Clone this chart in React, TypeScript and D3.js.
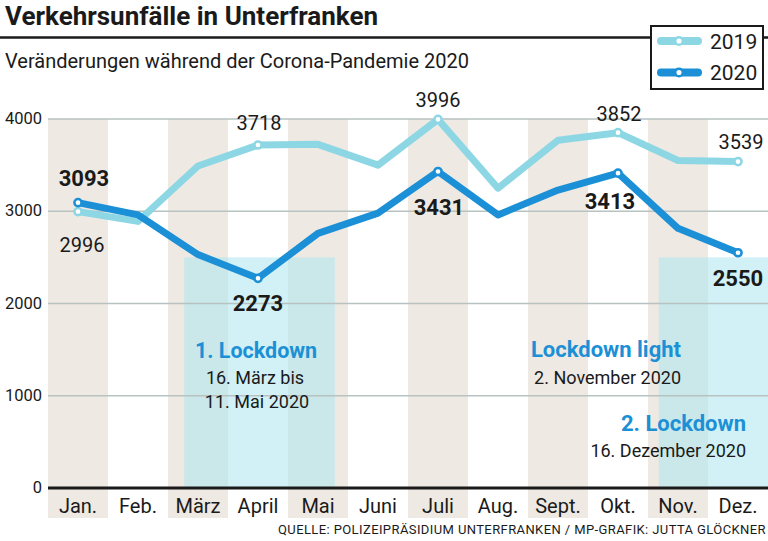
import { scaleBand, scaleLinear, line } from 'd3'

// Verkehrsunfälle in Unterfranken, 2019 vs 2020, month bands + lockdown shading.

const MONTHS = ['Jan.', 'Feb.', 'März', 'April', 'Mai', 'Juni', 'Juli', 'Aug.', 'Sept.', 'Okt.', 'Nov.', 'Dez.']
const Y2019 = [2996, 2890, 3490, 3718, 3725, 3500, 3996, 3250, 3770, 3852, 3550, 3539]
const Y2020 = [3093, 2960, 2530, 2273, 2760, 2980, 3431, 2960, 3230, 3413, 2815, 2550]
const Y_TICKS = [0, 1000, 2000, 3000, 4000]
const LABELED = [0, 3, 6, 9, 11]
// lockdown spans in fractional month index, shaded up to a value level
const LOCKDOWNS = [
  { from: 2.27, to: 4.78, level: 2500 },
  { from: 10.18, to: 12, level: 2500 },
]

const C19 = '#8dd7e5'
const C20 = '#1c90d6'
const BEIGE = '#eee9e2'
const SHADE = '#b3e7f0'
const GRID = '#b7c2c1'
const INK = '#1a1a1a'
const FONT = 'Roboto, "Liberation Sans", sans-serif'

// label offsets (dx, dy from point) per labelled month
const OFF19: Record<number, [number, number]> = { 0: [4, 40], 3: [1, -15], 6: [0, -12], 9: [1, -12], 11: [3, -13] }
const OFF20: Record<number, [number, number]> = { 0: [6, -17], 3: [0, 33], 6: [1, 44], 9: [-8, 36], 11: [0, 33] }

export default function App() {
  const W = 768
  const H = 541
  const x = scaleBand<string>().domain(MONTHS).range([48, 768]).padding(0)
  const xf = scaleLinear().domain([0, 12]).range([48, 768])
  const y = scaleLinear().domain([0, 4000]).range([488, 119])
  const cx = (i: number) => (x(MONTHS[i]) ?? 0) + x.bandwidth() / 2
  const path = line<number>()
    .x((_, i) => cx(i))
    .y((d) => y(d))

  return (
    <svg
      width={W}
      height={H}
      viewBox={`0 0 ${W} ${H}`}
      style={{ position: 'absolute', left: 0, top: 0, fontFamily: FONT }}
    >
      <rect width={W} height={H} fill="#fff" />

      {/* month bands */}
      {MONTHS.map((m, i) =>
        i % 2 === 0 ? (
          <rect key={m} x={x(m)} y={y(4000)} width={x.bandwidth()} height={518 - y(4000)} fill={BEIGE} />
        ) : null
      )}

      {/* lockdown shading */}
      {LOCKDOWNS.map((l, i) => (
        <rect
          key={i}
          x={xf(l.from)}
          y={y(l.level)}
          width={xf(l.to) - xf(l.from)}
          height={y(0) - y(l.level)}
          fill={SHADE}
          opacity={0.6}
        />
      ))}

      {/* grid + y ticks */}
      {Y_TICKS.map((t) => (
        <g key={t}>
          {t > 0 && <line x1={48} x2={768} y1={y(t)} y2={y(t)} stroke={GRID} strokeWidth={1.5} />}
          <text x={42} y={y(t) + 5} textAnchor="end" fontSize={16.5} fill={INK}>
            {t}
          </text>
        </g>
      ))}
      <line x1={48} x2={768} y1={y(0)} y2={y(0)} stroke={INK} strokeWidth={3} />

      {/* month labels */}
      {MONTHS.map((m, i) => (
        <text key={m} x={cx(i)} y={513} textAnchor="middle" fontSize={20} fill={INK}>
          {m}
        </text>
      ))}

      {/* lockdown notes */}
      <g fill={INK} textAnchor="middle">
        <text x={256} y={358} fontSize={21.5} fontWeight={700} fill={C20}>1. Lockdown</text>
        <text x={255} y={384} fontSize={18}>16. März bis</text>
        <text x={257} y={408} fontSize={18}>11. Mai 2020</text>
      </g>
      <g fill={INK} textAnchor="end">
        <text x={681} y={357} fontSize={22} fontWeight={700} fill={C20}>Lockdown light</text>
        <text x={681} y={384} fontSize={18}>2. November 2020</text>
        <text x={746} y={431} fontSize={22} fontWeight={700} fill={C20}>2. Lockdown</text>
        <text x={746} y={457} fontSize={18}>16. Dezember 2020</text>
      </g>

      {/* series */}
      <path d={path(Y2019) ?? ''} fill="none" stroke={C19} strokeWidth={7} strokeLinejoin="round" strokeLinecap="round" />
      <path d={path(Y2020) ?? ''} fill="none" stroke={C20} strokeWidth={7} strokeLinejoin="round" strokeLinecap="round" />
      {LABELED.map((i) => (
        <g key={i}>
          <circle cx={cx(i)} cy={y(Y2019[i])} r={3.6} fill="#fff" stroke={C19} strokeWidth={2.5} />
          <circle cx={cx(i)} cy={y(Y2020[i])} r={3.6} fill="#fff" stroke={C20} strokeWidth={2.5} />
          <text x={cx(i) + OFF19[i][0]} y={y(Y2019[i]) + OFF19[i][1]} textAnchor="middle" fontSize={20} fill={INK}>
            {Y2019[i]}
          </text>
          <text
            x={cx(i) + OFF20[i][0]}
            y={y(Y2020[i]) + OFF20[i][1]}
            textAnchor="middle"
            fontSize={22}
            fontWeight={700}
            fill={INK}
          >
            {Y2020[i]}
          </text>
        </g>
      ))}

      {/* header */}
      <text x={5} y={25} fontSize={26} fontWeight={700} fill={INK}>Verkehrsunfälle in Unterfranken</text>
      <line x1={0} x2={768} y1={37.5} y2={37.5} stroke={INK} strokeWidth={2.5} />
      <text x={5} y={68} fontSize={20} fill={INK}>Veränderungen während der Corona-Pandemie 2020</text>

      {/* legend */}
      <rect x={651} y={26} width={112} height={63} fill="#fff" stroke={INK} strokeWidth={2} />
      {[
        { label: '2019', color: C19, cy: 41 },
        { label: '2020', color: C20, cy: 72.5 },
      ].map((d) => (
        <g key={d.label}>
          <line x1={661} x2={698} y1={d.cy} y2={d.cy} stroke={d.color} strokeWidth={8} strokeLinecap="round" />
          <circle cx={679} cy={d.cy} r={3.8} fill="#fff" stroke={d.color} strokeWidth={2.5} />
          <text x={710} y={d.cy + 7.5} fontSize={21} fill={INK}>{d.label}</text>
        </g>
      ))}

      <text x={766} y={534} textAnchor="end" fontSize={13} letterSpacing={0.4} fill={INK}>
        QUELLE: POLIZEIPRÄSIDIUM UNTERFRANKEN / MP-GRAFIK: JUTTA GLÖCKNER
      </text>
    </svg>
  )
}
